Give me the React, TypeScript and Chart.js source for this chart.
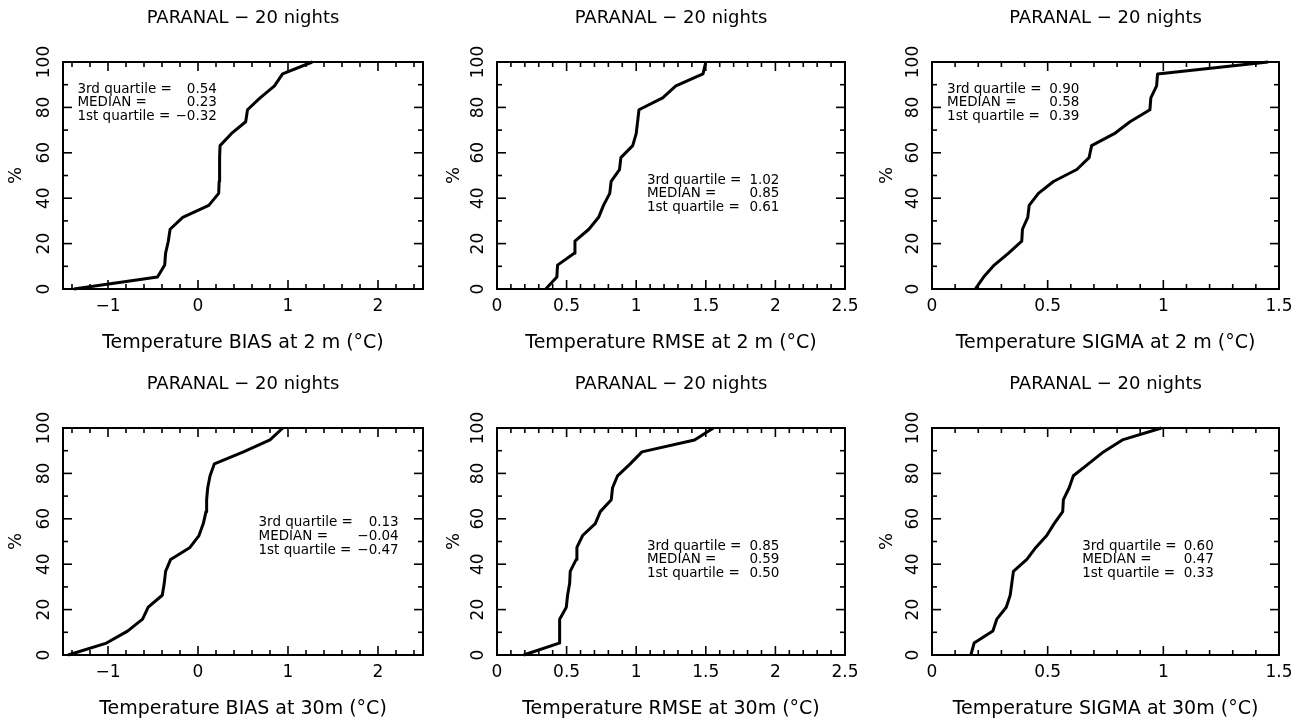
import React, { useEffect, useRef } from "react";
import { Chart, registerables } from "chart.js";

Chart.register(...registerables);

const FONT = '"DejaVu Sans", sans-serif';

// cumulative percentage of the 20 nights
const PERCENT = [0, 5.26, 10.53, 15.79, 21.05, 26.32, 31.58, 36.84, 42.11, 47.37, 52.63, 57.89, 63.16, 68.42, 73.68, 78.95, 84.21, 89.47, 94.74, 100];

// sorted values for each panel
const BIAS_2M = [-1.38, -0.45, -0.37, -0.36, -0.33, -0.31, -0.17, 0.12, 0.23, 0.235, 0.24, 0.24, 0.245, 0.37, 0.53, 0.55, 0.69, 0.85, 0.94, 1.27];
const RMSE_2M = [0.35, 0.43, 0.435, 0.555, 0.56, 0.66, 0.73, 0.765, 0.81, 0.82, 0.88, 0.89, 0.975, 1.0, 1.01, 1.02, 1.19, 1.285, 1.48, 1.5];
const SIGMA_2M = [0.187, 0.223, 0.269, 0.331, 0.388, 0.391, 0.414, 0.42, 0.46, 0.525, 0.626, 0.679, 0.69, 0.788, 0.856, 0.942, 0.946, 0.971, 0.975, 1.453];
const BIAS_30M = [-1.443, -1.017, -0.783, -0.616, -0.553, -0.397, -0.375, -0.36, -0.304, -0.089, 0.011, 0.059, 0.089, 0.096, 0.108, 0.134, 0.182, 0.505, 0.8, 0.942];
const RMSE_30M = [0.191, 0.447, 0.45, 0.45, 0.498, 0.507, 0.522, 0.526, 0.569, 0.574, 0.615, 0.706, 0.742, 0.821, 0.83, 0.866, 0.957, 1.041, 1.419, 1.555];
const SIGMA_30M = [0.168, 0.182, 0.263, 0.28, 0.321, 0.338, 0.345, 0.352, 0.41, 0.449, 0.496, 0.528, 0.565, 0.568, 0.593, 0.611, 0.676, 0.741, 0.823, 0.992];

// tick values and labels
const BIAS_TICKS = [-1, 0, 1, 2];
const BIAS_TICK_LABELS = ["\u22121", "0", "1", "2"];
const RMSE_TICKS = [0, 0.5, 1, 1.5, 2, 2.5];
const RMSE_TICK_LABELS = ["0", "0.5", "1", "1.5", "2", "2.5"];
const SIGMA_TICKS = [0, 0.5, 1, 1.5];
const SIGMA_TICK_LABELS = ["0", "0.5", "1", "1.5"];
const PCT_TICKS = [0, 20, 40, 60, 80, 100];
const PCT_TICK_LABELS = ["0", "20", "40", "60", "80", "100"];

const TITLE = "PARANAL \u2212 20 nights";
const QUARTILE_LABELS = ["3rd quartile =", "MEDIAN =", "1st quartile ="];
const Q_BIAS_2M = ["0.54", "0.23", "\u22120.32"];
const Q_RMSE_2M = ["1.02", "0.85", "0.61"];
const Q_SIGMA_2M = ["0.90", "0.58", "0.39"];
const Q_BIAS_30M = ["0.13", "\u22120.04", "\u22120.47"];
const Q_RMSE_30M = ["0.85", "0.59", "0.50"];
const Q_SIGMA_30M = ["0.60", "0.47", "0.33"];

const X_TITLES = [
  "Temperature BIAS at 2 m (\u00B0C)",
  "Temperature RMSE at 2 m (\u00B0C)",
  "Temperature SIGMA at 2 m (\u00B0C)",
  "Temperature BIAS at 30m (\u00B0C)",
  "Temperature RMSE at 30m (\u00B0C)",
  "Temperature SIGMA at 30m (\u00B0C)",
];

const COL_LEFT = [3, 437, 872];
const COL_WIDTH = [440, 428, 427];
const ROW_TOP = [0, 366];
const Y_TITLE_PAD = [2.2, 6.2, 4.2];

type PanelDef = {
  values: number[];
  xMin: number;
  xMax: number;
  ticks: number[];
  tickLabels: string[];
  minorStep: number;
  xTitle: string;
  quart: string[];
  qx0: number;
  qx1: number;
  qy: number[];
  col: number;
  row: number;
};

const PANELS: PanelDef[] = [
  { values: BIAS_2M, xMin: -1.5, xMax: 2.5, ticks: BIAS_TICKS, tickLabels: BIAS_TICK_LABELS, minorStep: 0.2, xTitle: X_TITLES[0], quart: Q_BIAS_2M, qx0: -1.34, qx1: 0.21, qy: [87.9, 82.0, 75.8], col: 0, row: 0 },
  { values: RMSE_2M, xMin: 0, xMax: 2.5, ticks: RMSE_TICKS, tickLabels: RMSE_TICK_LABELS, minorStep: 0.1, xTitle: X_TITLES[1], quart: Q_RMSE_2M, qx0: 1.077, qx1: 2.029, qy: [47.9, 41.9, 35.9], col: 1, row: 0 },
  { values: SIGMA_2M, xMin: 0, xMax: 1.5, ticks: SIGMA_TICKS, tickLabels: SIGMA_TICK_LABELS, minorStep: 0.1, xTitle: X_TITLES[2], quart: Q_SIGMA_2M, qx0: 0.065, qx1: 0.637, qy: [87.8, 82.0, 75.8], col: 2, row: 0 },
  { values: BIAS_30M, xMin: -1.5, xMax: 2.5, ticks: BIAS_TICKS, tickLabels: BIAS_TICK_LABELS, minorStep: 0.2, xTitle: X_TITLES[3], quart: Q_BIAS_30M, qx0: 0.672, qx1: 2.23, qy: [58.3, 52.1, 46.1], col: 0, row: 1 },
  { values: RMSE_30M, xMin: 0, xMax: 2.5, ticks: RMSE_TICKS, tickLabels: RMSE_TICK_LABELS, minorStep: 0.1, xTitle: X_TITLES[4], quart: Q_RMSE_30M, qx0: 1.077, qx1: 2.029, qy: [47.9, 41.9, 35.9], col: 1, row: 1 },
  { values: SIGMA_30M, xMin: 0, xMax: 1.5, ticks: SIGMA_TICKS, tickLabels: SIGMA_TICK_LABELS, minorStep: 0.1, xTitle: X_TITLES[5], quart: Q_SIGMA_30M, qx0: 0.649, qx1: 1.218, qy: [47.9, 41.9, 35.9], col: 2, row: 1 },
];

const decorPlugin = {
  id: "decor",
  afterDraw(chart: any, _args: any, opts: any) {
    const { ctx, chartArea: ca, scales } = chart;
    const xs = scales.x;
    const ys = scales.y;
    ctx.save();
    ctx.strokeStyle = "#000";
    ctx.fillStyle = "#000";
    ctx.lineWidth = 2;
    ctx.strokeRect(ca.left, ca.top, ca.right - ca.left, ca.bottom - ca.top);

    const seg = (x1: number, y1: number, x2: number, y2: number) => {
      ctx.beginPath();
      ctx.moveTo(x1, y1);
      ctx.lineTo(x2, y2);
      ctx.stroke();
    };
    const isMajor = (v: number, majors: number[]) => majors.some((m) => Math.abs(m - v) < 1e-6);

    ctx.lineWidth = 1.6;
    // x ticks (bottom and top, inward)
    const xStart = Math.ceil(xs.min / opts.minorStep - 1e-6);
    const xEnd = Math.floor(xs.max / opts.minorStep + 1e-6);
    for (let k = xStart; k <= xEnd; k++) {
      const v = k * opts.minorStep;
      const len = isMajor(v, opts.majorX) ? 9 : 5;
      const px = xs.getPixelForValue(v);
      seg(px, ca.bottom, px, ca.bottom - len);
      seg(px, ca.top, px, ca.top + len);
    }
    // y ticks (left and right, inward)
    for (let v = 0; v <= 100; v += 10) {
      const len = isMajor(v, opts.majorY) ? 9 : 5;
      const py = ys.getPixelForValue(v);
      seg(ca.left, py, ca.left + len, py);
      seg(ca.right, py, ca.right - len, py);
    }

    // panel title
    ctx.font = `18px ${FONT}`;
    ctx.textAlign = "center";
    ctx.textBaseline = "middle";
    ctx.fillText(opts.title, (ca.left + ca.right) / 2, ca.top - 44);

    // quartile annotation
    ctx.font = `13.5px ${FONT}`;
    for (let i = 0; i < opts.labels.length; i++) {
      const py = ys.getPixelForValue(opts.qy[i]);
      ctx.textAlign = "left";
      ctx.fillText(opts.labels[i], xs.getPixelForValue(opts.qx0), py);
      ctx.textAlign = "right";
      ctx.fillText(opts.values[i], xs.getPixelForValue(opts.qx1), py);
    }
    ctx.restore();
  },
};

function Panel({ def }: { def: PanelDef }) {
  const ref = useRef<HTMLCanvasElement | null>(null);
  const width = COL_WIDTH[def.col];
  const height = 360;

  useEffect(() => {
    if (!ref.current) return;
    const chart = new Chart(ref.current, {
      type: "line",
      data: {
        datasets: [
          {
            data: def.values.map((v, i) => ({ x: v, y: PERCENT[i] })),
            borderColor: "#000",
            borderWidth: 3,
            pointRadius: 0,
            tension: 0,
            fill: false,
            clip: false as any,
            borderJoinStyle: "round",
          },
        ],
      },
      options: {
        animation: false,
        responsive: false,
        maintainAspectRatio: false,
        events: [],
        layout: { padding: { top: 62, right: 20, left: 0, bottom: 0 } },
        plugins: {
          legend: { display: false },
          tooltip: { enabled: false },
          title: { display: false },
          decor: {
            title: TITLE,
            minorStep: def.minorStep,
            majorX: def.ticks,
            majorY: PCT_TICKS,
            labels: QUARTILE_LABELS,
            values: def.quart,
            qx0: def.qx0,
            qx1: def.qx1,
            qy: def.qy,
          },
        } as any,
        scales: {
          x: {
            type: "linear",
            position: "bottom",
            min: def.xMin,
            max: def.xMax,
            grid: { display: false, drawTicks: false },
            border: { display: false },
            afterBuildTicks: (s: any) => {
              s.ticks = def.ticks.map((v) => ({ value: v }));
            },
            ticks: {
              autoSkip: false,
              maxRotation: 0,
              minRotation: 0,
              padding: 7,
              color: "#000",
              font: { family: FONT, size: 17 },
              callback: (value: any) => {
                const i = def.ticks.findIndex((t) => Math.abs(t - Number(value)) < 1e-9);
                return i >= 0 ? def.tickLabels[i] : "";
              },
            },
            title: {
              display: true,
              text: def.xTitle,
              color: "#000",
              font: { family: FONT, size: 19 },
              padding: { top: 0, bottom: 6 },
            },
            afterFit: (s: any) => {
              s.height = 71;
              s.paddingLeft = 0;
              s.paddingRight = 0;
            },
          },
          y: {
            type: "linear",
            position: "left",
            min: 0,
            max: 100,
            grid: { display: false, drawTicks: false },
            border: { display: false },
            afterBuildTicks: (s: any) => {
              s.ticks = PCT_TICKS.map((v) => ({ value: v }));
            },
            ticks: {
              autoSkip: false,
              minRotation: 90,
              maxRotation: 90,
              crossAlign: "center",
              padding: 2,
              color: "#000",
              font: { family: FONT, size: 17 },
              callback: (value: any) => {
                const i = PCT_TICKS.indexOf(Number(value));
                return i >= 0 ? PCT_TICK_LABELS[i] : "";
              },
            },
            title: {
              display: true,
              text: "%",
              color: "#000",
              font: { family: FONT, size: 18 },
              padding: { top: Y_TITLE_PAD[def.col], bottom: 0 },
            },
            afterFit: (s: any) => {
              s.width = 60;
              s.paddingTop = 0;
              s.paddingBottom = 0;
            },
          },
        },
      } as any,
      plugins: [decorPlugin],
    });
    return () => chart.destroy();
  }, [def]);

  return (
    <canvas
      ref={ref}
      width={width}
      height={height}
      style={{
        position: "absolute",
        left: COL_LEFT[def.col],
        top: ROW_TOP[def.row],
        width,
        height,
      }}
    />
  );
}

export default function App() {
  return (
    <div
      style={{
        position: "absolute",
        left: 0,
        top: 0,
        width: 1311,
        height: 726,
        overflow: "hidden",
        background: "#fff",
      }}
    >
      {PANELS.map((p, i) => (
        <Panel key={i} def={p} />
      ))}
    </div>
  );
}
